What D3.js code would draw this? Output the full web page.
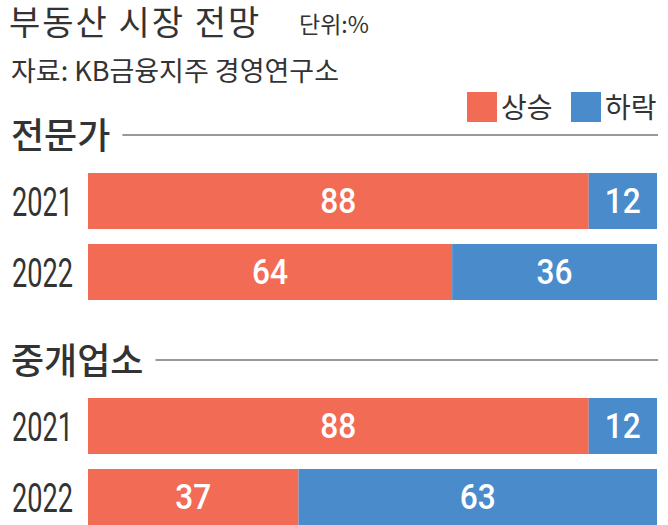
<!DOCTYPE html>
<html><head><meta charset="utf-8">
<script src="https://cdn.jsdelivr.net/npm/d3@7"></script>
<style>
html,body{margin:0;padding:0;background:#fff;}
svg{display:block;}
</style></head>
<body>
<script>
// data
const groups = ["전문가", "중개업소"];
const years = ["2021", "2022"];
const riseValues = [[88, 64], [88, 37]];
const fallValues = [[12, 36], [12, 63]];
const seriesNames = ["상승", "하락"];
const colors = ["#F26B55", "#4A8BCB"];

const W = 668, H = 525;
const svg = d3.select("body").append("svg").attr("width", W).attr("height", H);
const KR = "'Noto Sans CJK KR','Noto Sans',sans-serif";
const NUM = "Roboto,'Liberation Sans',sans-serif";
const textCol = "#333";

// title
svg.append("text").attr("x", 9).attr("y", 35)
  .attr("font-family", KR).attr("font-size", 34).attr("fill", textCol)
  .attr("letter-spacing", 2)
  .text("부동산 시장 전망");
svg.append("text").attr("x", 299).attr("y", 33)
  .attr("font-family", KR).attr("font-size", 23).attr("fill", textCol)
  .text("단위:%");
svg.append("text").attr("x", 11).attr("y", 81)
  .attr("font-family", KR).attr("font-size", 27).attr("fill", textCol)
  .text("자료: KB금융지주 경영연구소");

// legend
const legX = [467, 571];
seriesNames.forEach((n, i) => {
  svg.append("rect").attr("x", legX[i]).attr("y", 92).attr("width", 30).attr("height", 30).attr("fill", colors[i]);
  svg.append("text").attr("x", legX[i] + 34).attr("y", 118)
    .attr("font-family", KR).attr("font-size", 28).attr("fill", textCol).text(n);
});

// scales
const x = d3.scaleLinear().domain([0, 100]).range([88, 657]);
const gy = d3.scaleOrdinal().domain(groups).range([173, 398]);
const y = d3.scaleBand().domain(years).range([0, 127]).paddingInner(15 / 71).paddingOuter(0);

groups.forEach((g, gi) => {
  const g0 = gy(g);
  const grp = svg.append("g").attr("transform", `translate(0,${g0})`);
  // header
  const ht = grp.append("text").attr("x", 11).attr("y", -24)
    .attr("font-family", KR).attr("font-size", 36).attr("font-weight", 500).attr("fill", textCol)
    .text(g);
  const tw = ht.node().getComputedTextLength();
  grp.append("line").attr("x1", 11 + tw + 12).attr("x2", 658)
    .attr("y1", -38).attr("y2", -38).attr("stroke", "#777").attr("stroke-width", 1.5);

  years.forEach((yr, yi) => {
    const r = riseValues[gi][yi], f = fallValues[gi][yi];
    const by = y(yr), bh = y.bandwidth();
    const segs = [[0, r], [r, r + f]];
    const vals = [r, f];
    segs.forEach((s, si) => {
      grp.append("rect").attr("x", x(s[0])).attr("y", by)
        .attr("width", x(s[1]) - x(s[0])).attr("height", bh).attr("fill", colors[si]);
      grp.append("text").attr("x", (x(s[0]) + x(s[1])) / 2).attr("y", by + bh / 2 + 12)
        .attr("text-anchor", "middle").attr("font-family", NUM).attr("font-weight", 500)
        .attr("font-size", 35).attr("fill", "#fff")
        .attr("textLength", 36).attr("lengthAdjust", "spacingAndGlyphs")
        .text(vals[si]);
    });
    grp.append("text").attr("x", 12).attr("y", by + bh / 2 + 15)
      .attr("font-family", NUM).attr("font-weight", 400).attr("font-size", 41).attr("fill", textCol)
      .attr("textLength", 61).attr("lengthAdjust", "spacingAndGlyphs")
      .text(yr);
  });
});
</script>
</body></html>
